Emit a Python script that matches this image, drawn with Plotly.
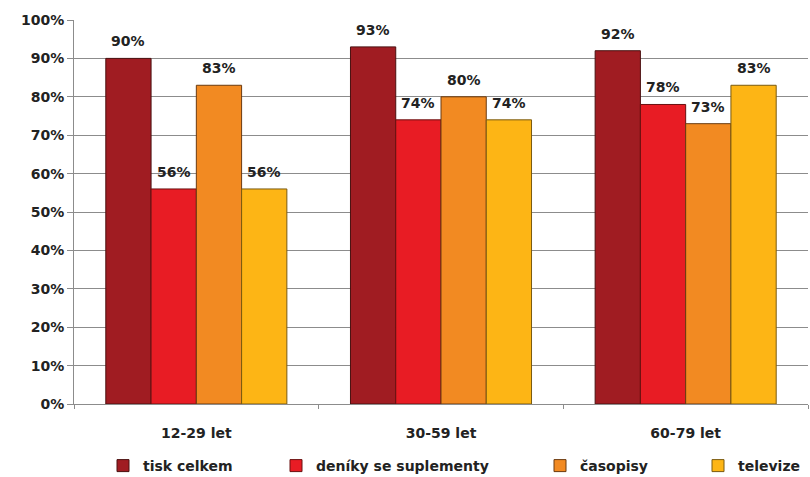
import plotly.graph_objects as go

# Age groups and share of readers/viewers (%) per medium
categories = ["12-29 let", "30-59 let", "60-79 let"]
series_names = ["tisk celkem", "deníky se suplementy", "časopisy", "televize"]
tisk_celkem = [90, 93, 92]
deniky = [56, 74, 78]
casopisy = [83, 80, 73]
televize = [56, 74, 83]
y_ticks = [0, 10, 20, 30, 40, 50, 60, 70, 80, 90, 100]
y_tick_labels = [f"{t}%" for t in y_ticks]

values = [tisk_celkem, deniky, casopisy, televize]
colors = ["#A01C22", "#E81C24", "#F28A22", "#FDB515"]
outlines = ["#4a1010", "#6a1010", "#6a3a10", "#7a5a10"]
legend_ids = ["legend", "legend2", "legend3", "legend4"]
legend_x_px = [103, 276, 540, 698]

FONT = "DejaVu Sans"
TEXT = "#222222"
GRID = "#8c8c8c"
W, H = 810, 477
M_L, M_R, M_T, M_B = 74, 2, 20, 73
BARGAP = 0.26

# pixel width of one bar, used to centre value labels over their bars
plot_w = W - M_L - M_R
bar_px = plot_w / len(categories) * (1 - BARGAP) / len(values)

fig = go.Figure()
for i, (name, vals, col, oc, lg) in enumerate(zip(series_names, values, colors, outlines, legend_ids)):
    fig.add_trace(go.Bar(
        x=categories, y=vals, name=name,
        marker=dict(color=col, line=dict(color=oc, width=1)),
        legend=lg,
    ))
    for cat, v in zip(categories, vals):
        fig.add_annotation(
            x=cat, y=v, text=f"{v}%", showarrow=False,
            xanchor="center", yanchor="bottom",
            xshift=(i - (len(values) - 1) / 2) * bar_px, yshift=7,
            font=dict(family=FONT, size=14, color=TEXT, weight="bold"),
        )

layout_legends = {}
for lg, xp in zip(legend_ids, legend_x_px):
    layout_legends[lg] = dict(
        x=xp / W, xref="container", xanchor="left",
        y=1 - 466 / H, yref="container", yanchor="middle",
        orientation="h", bgcolor="rgba(0,0,0,0)",
        font=dict(family=FONT, size=14, color=TEXT, weight="bold"),
        itemwidth=30,
    )

fig.update_layout(
    width=W, height=H,
    margin=dict(l=M_L, r=M_R, t=M_T, b=M_B),
    paper_bgcolor="white", plot_bgcolor="white",
    barmode="group", bargap=BARGAP, bargroupgap=0,
    showlegend=True,
    **layout_legends,
)
fig.update_yaxes(
    range=[0, 100], tickvals=y_ticks, ticktext=y_tick_labels,
    showgrid=True, gridcolor=GRID, gridwidth=1,
    showline=True, linecolor=GRID, linewidth=1,
    ticks="outside", ticklen=6, tickcolor=GRID,
    tickfont=dict(family=FONT, size=14, color=TEXT, weight="bold"),
    zeroline=False,
)
fig.update_xaxes(
    showline=True, linecolor=GRID, linewidth=1,
    ticks="outside", tickson="boundaries", ticklen=4, tickcolor=GRID,
    ticklabelstandoff=16,
    tickfont=dict(family=FONT, size=14, color=TEXT, weight="bold"),
)

fig.write_html("out.html")
